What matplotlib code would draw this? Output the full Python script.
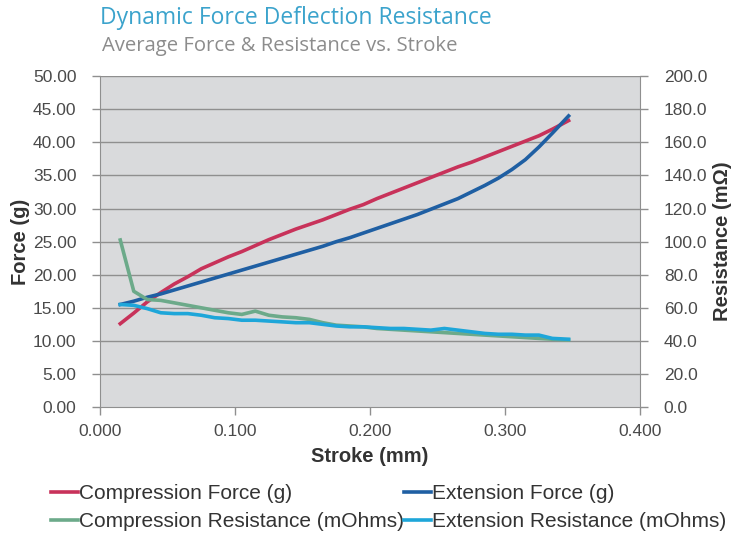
import matplotlib.pyplot as plt
import numpy as np

# stroke positions (mm)
stroke = [0.015, 0.025, 0.035, 0.045, 0.055, 0.065, 0.075, 0.085, 0.095, 0.105,
          0.115, 0.125, 0.135, 0.145, 0.155, 0.165, 0.175, 0.185, 0.195, 0.205,
          0.215, 0.225, 0.235, 0.245, 0.255, 0.265, 0.275, 0.285, 0.295, 0.305,
          0.315, 0.325, 0.335, 0.347]

comp_force = [12.6, 14.2, 15.9, 17.3, 18.6, 19.7, 20.9, 21.8, 22.7, 23.5,
              24.4, 25.3, 26.1, 26.9, 27.6, 28.3, 29.1, 29.9, 30.6, 31.5,
              32.3, 33.1, 33.9, 34.7, 35.5, 36.3, 37.0, 37.8, 38.6, 39.4,
              40.2, 41.0, 42.0, 43.3]

ext_force = [15.5, 16.0, 16.6, 17.1, 17.7, 18.3, 18.9, 19.5, 20.1, 20.7,
             21.3, 21.9, 22.5, 23.1, 23.7, 24.3, 25.0, 25.6, 26.3, 27.0,
             27.7, 28.4, 29.1, 29.9, 30.7, 31.5, 32.5, 33.5, 34.6, 35.9,
             37.4, 39.3, 41.4, 44.0]

comp_res = [101.0, 70.0, 65.0, 64.5, 63.0, 61.5, 60.0, 58.5, 57.0, 56.0,
            58.0, 55.5, 54.5, 54.0, 53.0, 51.0, 49.5, 49.0, 48.5, 47.5,
            47.0, 46.5, 46.0, 45.5, 45.0, 44.5, 44.0, 43.5, 43.0, 42.5,
            42.0, 41.5, 41.0, 40.5]

ext_res = [62.0, 61.5, 59.5, 57.0, 56.5, 56.5, 55.5, 54.0, 53.5, 52.5,
           52.5, 52.0, 51.5, 51.0, 51.0, 50.0, 49.0, 48.5, 48.5, 48.0,
           47.5, 47.5, 47.0, 46.5, 47.5, 46.5, 45.5, 44.5, 44.0, 44.0,
           43.5, 43.5, 41.5, 41.0]

fig = plt.figure(figsize=(7.43, 5.37), dpi=100)
ax = fig.add_axes([0.1346, 0.242, 0.727, 0.616])
ax2 = ax.twinx()

ax.set_facecolor("#d9dadc")

gridc = "#8f8f8f"
for v in np.arange(5, 50.1, 5):
	ax.axhline(v, color=gridc, lw=1, zorder=0)

l1, = ax.plot(stroke, comp_force, color="#c8325a", lw=2.6, label="Compression Force (g)")
l2, = ax.plot(stroke, ext_force, color="#1f5fa3", lw=2.6, label="Extension Force (g)")
l3, = ax2.plot(stroke, comp_res, color="#6caa8a", lw=2.6, label="Compression Resistance (mOhms)")
l4, = ax2.plot(stroke, ext_res, color="#1ea6d9", lw=2.6, label="Extension Resistance (mOhms)")

ax.set_xlim(0, 0.4)
ax.set_ylim(0, 50)
ax2.set_ylim(0, 200)
ax.set_xticks(np.arange(0, 0.41, 0.1))
ax.set_xticklabels(["%.3f" % v for v in np.arange(0, 0.41, 0.1)])
ax.set_yticks(np.arange(0, 50.1, 5))
ax.set_yticklabels(["%.2f" % v for v in np.arange(0, 50.1, 5)])
ax2.set_yticks(np.arange(0, 200.1, 20))
ax2.set_yticklabels(["%.1f" % v for v in np.arange(0, 200.1, 20)])

tickc = "#4a4a4a"
for a in (ax, ax2):
	for s in a.spines.values():
		s.set_visible(False)
	a.tick_params(colors=gridc, labelcolor=tickc, labelsize=12.5, length=6, width=1)
	for lab in a.get_xticklabels() + a.get_yticklabels():
		lab.set_family("Liberation Sans")
ax.tick_params(axis="y", pad=11)
ax.tick_params(axis="x", pad=6)
ax2.tick_params(axis="y", pad=11)
ax.spines["left"].set_visible(True)
ax.spines["left"].set_color(gridc)
ax.spines["bottom"].set_visible(True)
ax.spines["bottom"].set_color(gridc)
ax2.spines["right"].set_visible(True)
ax2.spines["right"].set_color(gridc)

ax.set_xlabel("Stroke (mm)", fontsize=14.5, fontweight="bold", family="Liberation Sans", color="#333333", labelpad=6)
ax.set_ylabel("Force (g)", fontsize=14.5, fontweight="bold", family="Liberation Sans", color="#333333", labelpad=2)
ax2.set_ylabel("Resistance (m\u03a9)", fontsize=14.5, fontweight="bold", family="Liberation Sans", color="#333333", labelpad=4)

fig.text(0.134, 0.967, "Dynamic Force Deflection Resistance", fontsize=16.5, color="#3ba3cc", family="Open Sans", va="center")
fig.text(0.137, 0.915, "Average Force & Resistance vs. Stroke", fontsize=14.6, color="#8c8c8c", family="Open Sans", va="center")

# column-wise fill, so order handles to read row by row
leg = fig.legend(handles=[l1, l3, l2, l4], loc="upper left", bbox_to_anchor=(0.068, 0.099), ncol=2,
                 frameon=False, handlelength=1.3, handletextpad=0.05, columnspacing=0.0,
                 labelspacing=0.45, borderaxespad=0, borderpad=0, prop={"family": "Liberation Sans", "size": 15})
for t in leg.get_texts():
	t.set_color("#333333")

plt.savefig("out.png", dpi=100)
